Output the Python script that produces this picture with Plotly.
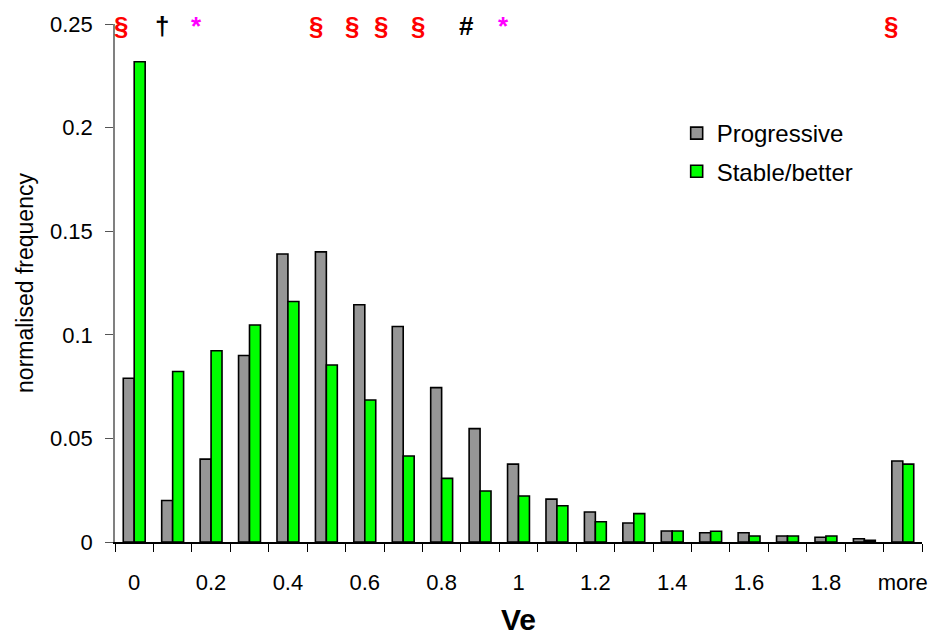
import plotly.graph_objects as go

# ---- data ----
categories = ["0", "0.1", "0.2", "0.3", "0.4", "0.5", "0.6", "0.7", "0.8", "0.9",
              "1", "1.1", "1.2", "1.3", "1.4", "1.5", "1.6", "1.7", "1.8", "1.9", "more"]
tick_labels = ["0", "", "0.2", "", "0.4", "", "0.6", "", "0.8", "",
               "1", "", "1.2", "", "1.4", "", "1.6", "", "1.8", "", "more"]
progressive = [0.079, 0.020, 0.040, 0.090, 0.139, 0.140, 0.1145, 0.104, 0.0745, 0.0547,
               0.0376, 0.0207, 0.0145, 0.0092, 0.0053, 0.0045, 0.0045, 0.0029, 0.0023, 0.0016, 0.0391]
stable = [0.2318, 0.0823, 0.0923, 0.1047, 0.1161, 0.0854, 0.0685, 0.0415, 0.0307, 0.0246,
          0.0222, 0.0175, 0.0098, 0.0137, 0.0053, 0.0052, 0.0029, 0.0029, 0.0029, 0.0008, 0.0376]
y_ticks = [0, 0.05, 0.1, 0.15, 0.2, 0.25]

# significance markers above the bins
marker_symbols = ["§", "†", "*", "§", "§", "§", "§", "#", "*", "§"]
marker_x = [-0.35, 0.715, 1.63, 4.72, 5.66, 6.41, 7.38, 8.65, 9.60, 19.69]
marker_colors = ["#FF0000", "#000000", "#FF00FF", "#FF0000", "#FF0000", "#FF0000",
                 "#FF0000", "#000000", "#FF00FF", "#FF0000"]

FONT = "Liberation Sans, Arial, sans-serif"

fig = go.Figure()
fig.add_trace(go.Bar(x=categories, y=progressive, name="Progressive",
                     marker=dict(color="#969696", line=dict(color="#000000", width=1.6)),
                     legendgroup="a"))
fig.add_trace(go.Bar(x=categories, y=stable, name="Stable/better",
                     marker=dict(color="#00FF00", line=dict(color="#000000", width=1.6)),
                     legendgroup="b"))

for s, xv, c in zip(marker_symbols, marker_x, marker_colors):
    fig.add_annotation(x=xv, y=0.25, xref="x", yref="y", text="<b>%s</b>" % s,
                       showarrow=False, yshift=-2,
                       font=dict(family=FONT, size=26, color=c))

fig.update_layout(
    width=931, height=636,
    margin=dict(l=115, r=9, t=24, b=94),
    paper_bgcolor="white", plot_bgcolor="white",
    font=dict(family=FONT, size=22, color="#000000"),
    barmode="group", bargap=0.43, bargroupgap=0,
    showlegend=True,
    legend=dict(x=0.696, y=0.832, xanchor="left", yanchor="top",
                bgcolor="rgba(0,0,0,0)", font=dict(size=24), tracegroupgap=4),
    xaxis=dict(type="category", range=[-0.5, 20.5], tickson="boundaries",
               ticks="outside", ticklen=8, tickcolor="#000000", tickwidth=1,
               tickmode="array", tickvals=categories, ticktext=tick_labels,
               tickangle=0, ticklabelstandoff=20, automargin=False,
               showline=True, linecolor="#000000", linewidth=1.5,
               showgrid=False, zeroline=False,
               title=dict(text="<b>Ve</b>", font=dict(size=30), standoff=17)),
    yaxis=dict(range=[0, 0.25], tickmode="array", tickvals=y_ticks,
               ticks="outside", ticklen=8, tickcolor="#555555", tickwidth=1,
               ticklabelstandoff=8,
               showline=True, linecolor="#808080", linewidth=1.5,
               showgrid=False, zeroline=False, automargin=False,
               title=dict(text="normalised frequency", font=dict(size=23), standoff=10)),
)

fig.write_html("out.html", config={"displayModeBar": False},
               post_script="document.body.style.margin='0';")
